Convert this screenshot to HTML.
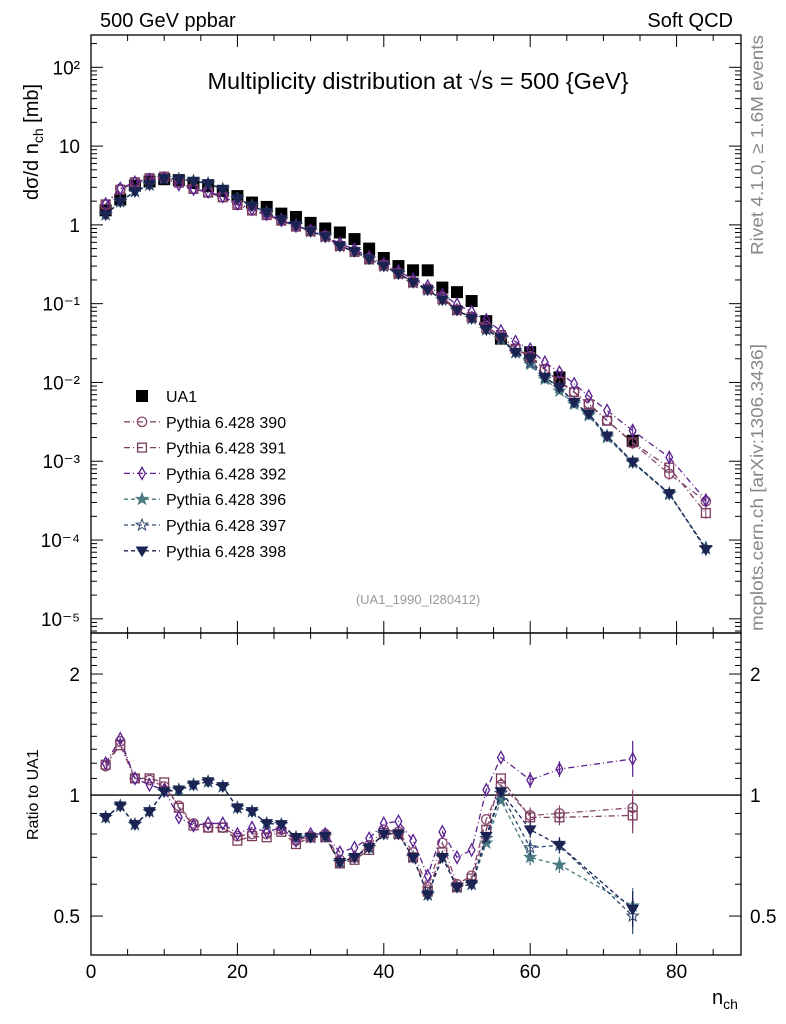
<!DOCTYPE html>
<html><head><meta charset="utf-8"><style>
html,body{margin:0;padding:0;background:#fff;}
svg{display:block;font-family:"Liberation Sans",sans-serif;}
</style></head><body>
<svg id="chart" width="786" height="1024" viewBox="0 0 786 1024" xmlns="http://www.w3.org/2000/svg">
<rect x="0" y="0" width="786" height="1024" fill="#fff"/>
<g id="main"></g>
<g id="ratio"></g>
<g id="texts">
<text x="100" y="27" font-size="20">500 GeV ppbar</text>
<text x="733" y="27" font-size="20" text-anchor="end">Soft QCD</text>
<text x="418" y="89" font-size="23.5" text-anchor="middle">Multiplicity distribution at √s = 500 {GeV}</text>
<text x="418" y="604" font-size="13" fill="#999" text-anchor="middle">(UA1_1990_I280412)</text>
<text transform="translate(763,255) rotate(-90)" font-size="17.5" fill="#888" textLength="220" lengthAdjust="spacingAndGlyphs">Rivet 4.1.0, ≥ 1.6M events</text>
<text transform="translate(763,631) rotate(-90)" font-size="17.5" fill="#888" textLength="287" lengthAdjust="spacingAndGlyphs">mcplots.cern.ch [arXiv:1306.3436]</text>
<text transform="translate(38,200) rotate(-90)" font-size="20">dσ/d n<tspan font-size="14" dy="5">ch</tspan><tspan dy="-5"> [mb]</tspan></text>
<text transform="translate(38,840) rotate(-90)" font-size="16">Ratio to UA1</text>
<text x="712" y="1004" font-size="20">n<tspan font-size="14" dy="5">ch</tspan></text>
</g>
<g id="legend"></g>
</svg>
<script>
const ua1N = [2,4,6,8,10,12,14,16,18,20,22,24,26,28,30,32,34,36,38,40,42,44,46,48,50,52,54,56,60,64,74];
const ua1Y = [1.53,2.1,3.15,3.55,3.8,3.7,3.4,3.1,2.7,2.32,1.92,1.69,1.39,1.26,1.06,0.90,0.80,0.66,0.50,0.38,0.30,0.265,0.265,0.16,0.14,0.108,0.060,0.036,0.0242,0.0116,0.00182];
const mcN = [2,4,6,8,10,12,14,16,18,20,22,24,26,28,30,32,34,36,38,40,42,44,46,48,50,52,54,56,58,60,62,64,66,68,70.5,74,79,84];
const mc390 = [1.80,2.86,3.47,3.87,3.99,3.48,2.89,2.57,2.24,1.83,1.54,1.35,1.14,0.97,0.84,0.72,0.55,0.46,0.375,0.31,0.243,0.19,0.156,0.122,0.084,0.068,0.052,0.038,0.027,0.0215,0.0148,0.0104,0.0076,0.0054,0.0033,0.0017,6.9e-4,3.1e-4];
const mc391 = [1.82,2.79,3.47,3.91,4.09,3.44,2.86,2.57,2.24,1.79,1.52,1.33,1.13,0.95,0.83,0.71,0.54,0.455,0.365,0.306,0.24,0.186,0.152,0.115,0.083,0.067,0.049,0.040,0.0267,0.021,0.0145,0.0102,0.0075,0.0053,0.00327,0.00174,8.3e-4,2.2e-4];
const mc392 = [1.84,2.90,3.47,3.76,3.91,3.26,2.86,2.64,2.30,1.86,1.59,1.37,1.15,0.97,0.85,0.72,0.58,0.49,0.39,0.32,0.26,0.204,0.167,0.130,0.098,0.079,0.062,0.045,0.033,0.0264,0.018,0.0135,0.0096,0.0067,0.0044,0.00245,0.00112,3.2e-4];
const mc396 = [1.35,1.97,2.66,3.23,3.88,3.81,3.60,3.35,2.84,2.16,1.75,1.44,1.17,0.99,0.83,0.71,0.54,0.46,0.37,0.30,0.24,0.186,0.150,0.112,0.083,0.065,0.047,0.035,0.024,0.017,0.011,0.0078,0.0053,0.0038,0.0020,9.6e-4,3.8e-4,8.0e-5];
const mc397 = [1.35,1.97,2.66,3.23,3.88,3.81,3.60,3.35,2.84,2.16,1.75,1.44,1.17,0.99,0.83,0.71,0.54,0.46,0.37,0.30,0.24,0.186,0.150,0.112,0.083,0.065,0.047,0.036,0.0242,0.018,0.0116,0.0087,0.0056,0.0040,0.0021,9.8e-4,3.9e-4,7.8e-5];
const mc398 = [1.35,1.97,2.66,3.23,3.88,3.81,3.60,3.35,2.84,2.16,1.75,1.44,1.17,0.99,0.83,0.71,0.54,0.46,0.37,0.30,0.24,0.186,0.150,0.112,0.083,0.065,0.047,0.037,0.0242,0.020,0.0116,0.0087,0.0056,0.0040,0.0021,9.8e-4,3.9e-4,7.6e-5];
const r390 = [1.18,1.36,1.10,1.09,1.05,0.94,0.85,0.83,0.83,0.79,0.80,0.80,0.82,0.77,0.79,0.80,0.69,0.70,0.75,0.82,0.81,0.72,0.59,0.76,0.60,0.63,0.87,1.06,0.89,0.90,0.93];
const r391 = [1.19,1.33,1.10,1.10,1.075,0.93,0.84,0.83,0.83,0.77,0.79,0.785,0.81,0.755,0.785,0.785,0.676,0.69,0.73,0.805,0.80,0.70,0.575,0.72,0.59,0.62,0.82,1.10,0.88,0.88,0.89];
const r392 = [1.20,1.38,1.10,1.06,1.03,0.88,0.84,0.85,0.85,0.80,0.83,0.81,0.83,0.77,0.80,0.80,0.72,0.74,0.78,0.85,0.86,0.77,0.63,0.81,0.70,0.73,1.03,1.24,1.09,1.16,1.23];
const r396 = [0.88,0.94,0.845,0.91,1.02,1.03,1.06,1.08,1.05,0.93,0.91,0.85,0.845,0.785,0.785,0.79,0.68,0.70,0.74,0.80,0.80,0.70,0.565,0.70,0.59,0.60,0.76,0.97,0.70,0.67,0.53];
const r397 = [0.88,0.94,0.845,0.91,1.02,1.03,1.06,1.08,1.05,0.93,0.91,0.85,0.845,0.785,0.785,0.79,0.68,0.70,0.74,0.80,0.80,0.70,0.565,0.70,0.59,0.60,0.78,1.01,0.74,0.75,0.50];
const r398 = [0.88,0.94,0.845,0.91,1.02,1.03,1.06,1.08,1.05,0.93,0.91,0.85,0.845,0.785,0.785,0.79,0.68,0.70,0.74,0.80,0.80,0.70,0.565,0.70,0.59,0.60,0.79,1.02,0.82,0.75,0.52];
const seriesNames = ["Pythia 6.428 390","Pythia 6.428 391","Pythia 6.428 392","Pythia 6.428 396","Pythia 6.428 397","Pythia 6.428 398"];
const xTicks = [0,20,40,60,80];
const yTickExp = [-5,-4,-3,-2,-1,0,1,2];
const yTickLabels = ["10⁻⁵","10⁻⁴","10⁻³","10⁻²","10⁻¹","1","10","10²"];
const rTicks = [0.5,1,2];
const rTickLabels = ["0.5","1","2"];

const NS="http://www.w3.org/2000/svg";
const L=91,R=741,MT=35,MB=633,RB=955;
const X0=0,X1=88.8;
const LMIN=-5.18,LMAX=2.41;
const RMIN=0.4,RMAX=2.53;
function xs(v){return L+(v-X0)/(X1-X0)*(R-L);}
function ys(v){const l=Math.log10(v);return MB-(l-LMIN)/(LMAX-LMIN)*(MB-MT);}
function yr(v){return RB-(Math.log(v)-Math.log(RMIN))/(Math.log(RMAX)-Math.log(RMIN))*(RB-MB);}
function mk(tag,at,parent){const e=document.createElementNS(NS,tag);for(const k in at)e.setAttribute(k,at[k]);parent.appendChild(e);return e;}
const gm=document.getElementById('main'),gr=document.getElementById('ratio'),lg=document.getElementById('legend');

const styles=[
 {c:"#8a4a70",m:"circle",fill:"none",dash:"6,3,1,3"},
 {c:"#7a3b5e",m:"square",fill:"none",dash:"6,3,1,3"},
 {c:"#5a2090",m:"diamond",fill:"none",dash:"6,3,1,3"},
 {c:"#4a7a82",m:"star",fill:"#4a7a82",dash:"4,3"},
 {c:"#2d4a6e",m:"star",fill:"none",dash:"4,3"},
 {c:"#1a2352",m:"tri",fill:"#1a2352",dash:"4,3"}];

function marker(g,type,x,y,c,fill,s){
 let e;
 if(type==="circle") e=mk('circle',{cx:x,cy:y,r:s*0.85,fill:fill,stroke:c,'stroke-width':1.3},g);
 else if(type==="square") e=mk('rect',{x:x-s*0.8,y:y-s*0.8,width:s*1.6,height:s*1.6,fill:fill,stroke:c,'stroke-width':1.3},g);
 else if(type==="diamond") e=mk('polygon',{points:`${x},${y-s*1.1} ${x+s*0.6},${y} ${x},${y+s*1.1} ${x-s*0.6},${y}`,fill:fill,stroke:c,'stroke-width':1.3},g);
 else if(type==="tri") e=mk('polygon',{points:`${x-s},${y-s*0.7} ${x+s},${y-s*0.7} ${x},${y+s}`,fill:fill,stroke:c,'stroke-width':1},g);
 else if(type==="star"){let p=[];for(let i=0;i<10;i++){const a=-Math.PI/2+i*Math.PI/5;const rr=i%2?s*0.45:s*1.1;p.push((x+rr*Math.cos(a)).toFixed(1)+","+(y+rr*Math.sin(a)).toFixed(1));}e=mk('polygon',{points:p.join(" "),fill:fill,stroke:c,'stroke-width':1},g);}
 else if(type==="sq") e=mk('rect',{x:x-s,y:y-s,width:2*s,height:2*s,fill:c},g);
 return e;
}

const fm=mk('rect',{x:L,y:MT,width:R-L,height:MB-MT,fill:"none",stroke:"#000",'stroke-width':1.3},gm);


const fr=mk('rect',{x:L,y:MB,width:R-L,height:RB-MB,fill:"none",stroke:"#000",'stroke-width':1.3},gr);



for(let v=0;v<=X1;v+=5){
 const x=xs(v),maj=(v%20===0),len=maj?12:6;
 [[MT,1],[MB,-1],[MB,1],[RB,-1]].forEach(([yy,d])=>{const t=mk('line',{x1:x,x2:x,y1:yy,y2:yy+d*len,stroke:"#000",'stroke-width':1},gm);});
}
xTicks.forEach(v=>{const t=mk('text',{x:xs(v),y:978,'font-size':19,'text-anchor':'middle'},gr);t.textContent=String(v);});

for(let e=-6;e<=2;e++){for(let k=1;k<=9;k++){const v=k*Math.pow(10,e);const l=Math.log10(v);if(l<LMIN||l>LMAX)continue;const y=ys(v),len=k===1?12:6;
 [[L,1],[R,-1]].forEach(([xx,d])=>{const t=mk('line',{x1:xx,x2:xx+d*len,y1:y,y2:y,stroke:"#000",'stroke-width':1},gm);});}}
yTickExp.forEach((e,i)=>{const t=mk('text',{x:80,y:ys(Math.pow(10,e))+7,'font-size':19,'text-anchor':'end'},gm);t.textContent=yTickLabels[i];});

for(let v=0.4;v<=2.5;v+=0.1){const vv=Math.round(v*10)/10;const y=yr(vv);const maj=(vv===0.5||vv===1||vv===2);const len=maj?12:6;
 [[L,1],[R,-1]].forEach(([xx,d])=>{const t=mk('line',{x1:xx,x2:xx+d*len,y1:y,y2:y,stroke:"#000",'stroke-width':1},gr);});}
rTicks.forEach((v,i)=>{[[80,'end'],[750,'start']].forEach(([xx,a])=>{const t=mk('text',{x:xx,y:yr(v)+7,'font-size':19,'text-anchor':a},gr);t.textContent=rTickLabels[i];});});
const one=mk('line',{x1:L,x2:R,y1:yr(1),y2:yr(1),stroke:"#000",'stroke-width':1.3},gr);



const gd=mk('g',{},gm);


ua1N.forEach((n,i)=>{const m=marker(gd,"sq",xs(n),ys(ua1Y[i]),"#000","#000",6);});

const mcs=[mc390,mc391,mc392,mc396,mc397,mc398];
const rs=[r390,r391,r392,r396,r397,r398];
const order=[3,4,0,1,2,5];
order.forEach(si=>{
 const st=styles[si];
 const g=mk('g',{},gm);
 
 
 mk('polyline',{points:mcN.map((n,i)=>xs(n)+","+ys(mcs[si][i])).join(" "),fill:"none",stroke:st.c,'stroke-width':1.3,'stroke-dasharray':st.dash},g);
 mcN.forEach((n,i)=>{if(n>=74){const y=ys(mcs[si][i]);mk('line',{x1:xs(n),x2:xs(n),y1:y-6,y2:y+6,stroke:st.c,'stroke-width':1},g);}
  const m=marker(g,st.m,xs(n),ys(mcs[si][i]),st.c,st.fill,5.5);});
 const h=mk('g',{},gr);
 
 
 mk('polyline',{points:ua1N.map((n,i)=>xs(n)+","+yr(rs[si][i])).join(" "),fill:"none",stroke:st.c,'stroke-width':1.3,'stroke-dasharray':st.dash},h);
 ua1N.forEach((n,i)=>{const y=yr(rs[si][i]);if(n>=60){const e=n===74?18:8;mk('line',{x1:xs(n),x2:xs(n),y1:y-e,y2:y+e,stroke:st.c,'stroke-width':1.2},h);}
  const m=marker(h,st.m,xs(n),y,st.c,st.fill,5.5);});
});

const lnames=["UA1"].concat(seriesNames);
lnames.forEach((nm,i)=>{
 const y=396+i*25.8;
 const g=mk('g',{},lg);
 
 
 if(i===0){marker(g,"sq",142,y,"#000","#000",6);}
 else{const st=styles[i-1];mk('line',{x1:124,x2:160,y1:y,y2:y,stroke:st.c,'stroke-width':1.3,'stroke-dasharray':st.dash},g);marker(g,st.m,142,y,st.c,st.fill,5.5);}
 const t=mk('text',{x:166,y:y+6,'font-size':16},g);t.textContent=nm;
});
</script>
</body></html>
